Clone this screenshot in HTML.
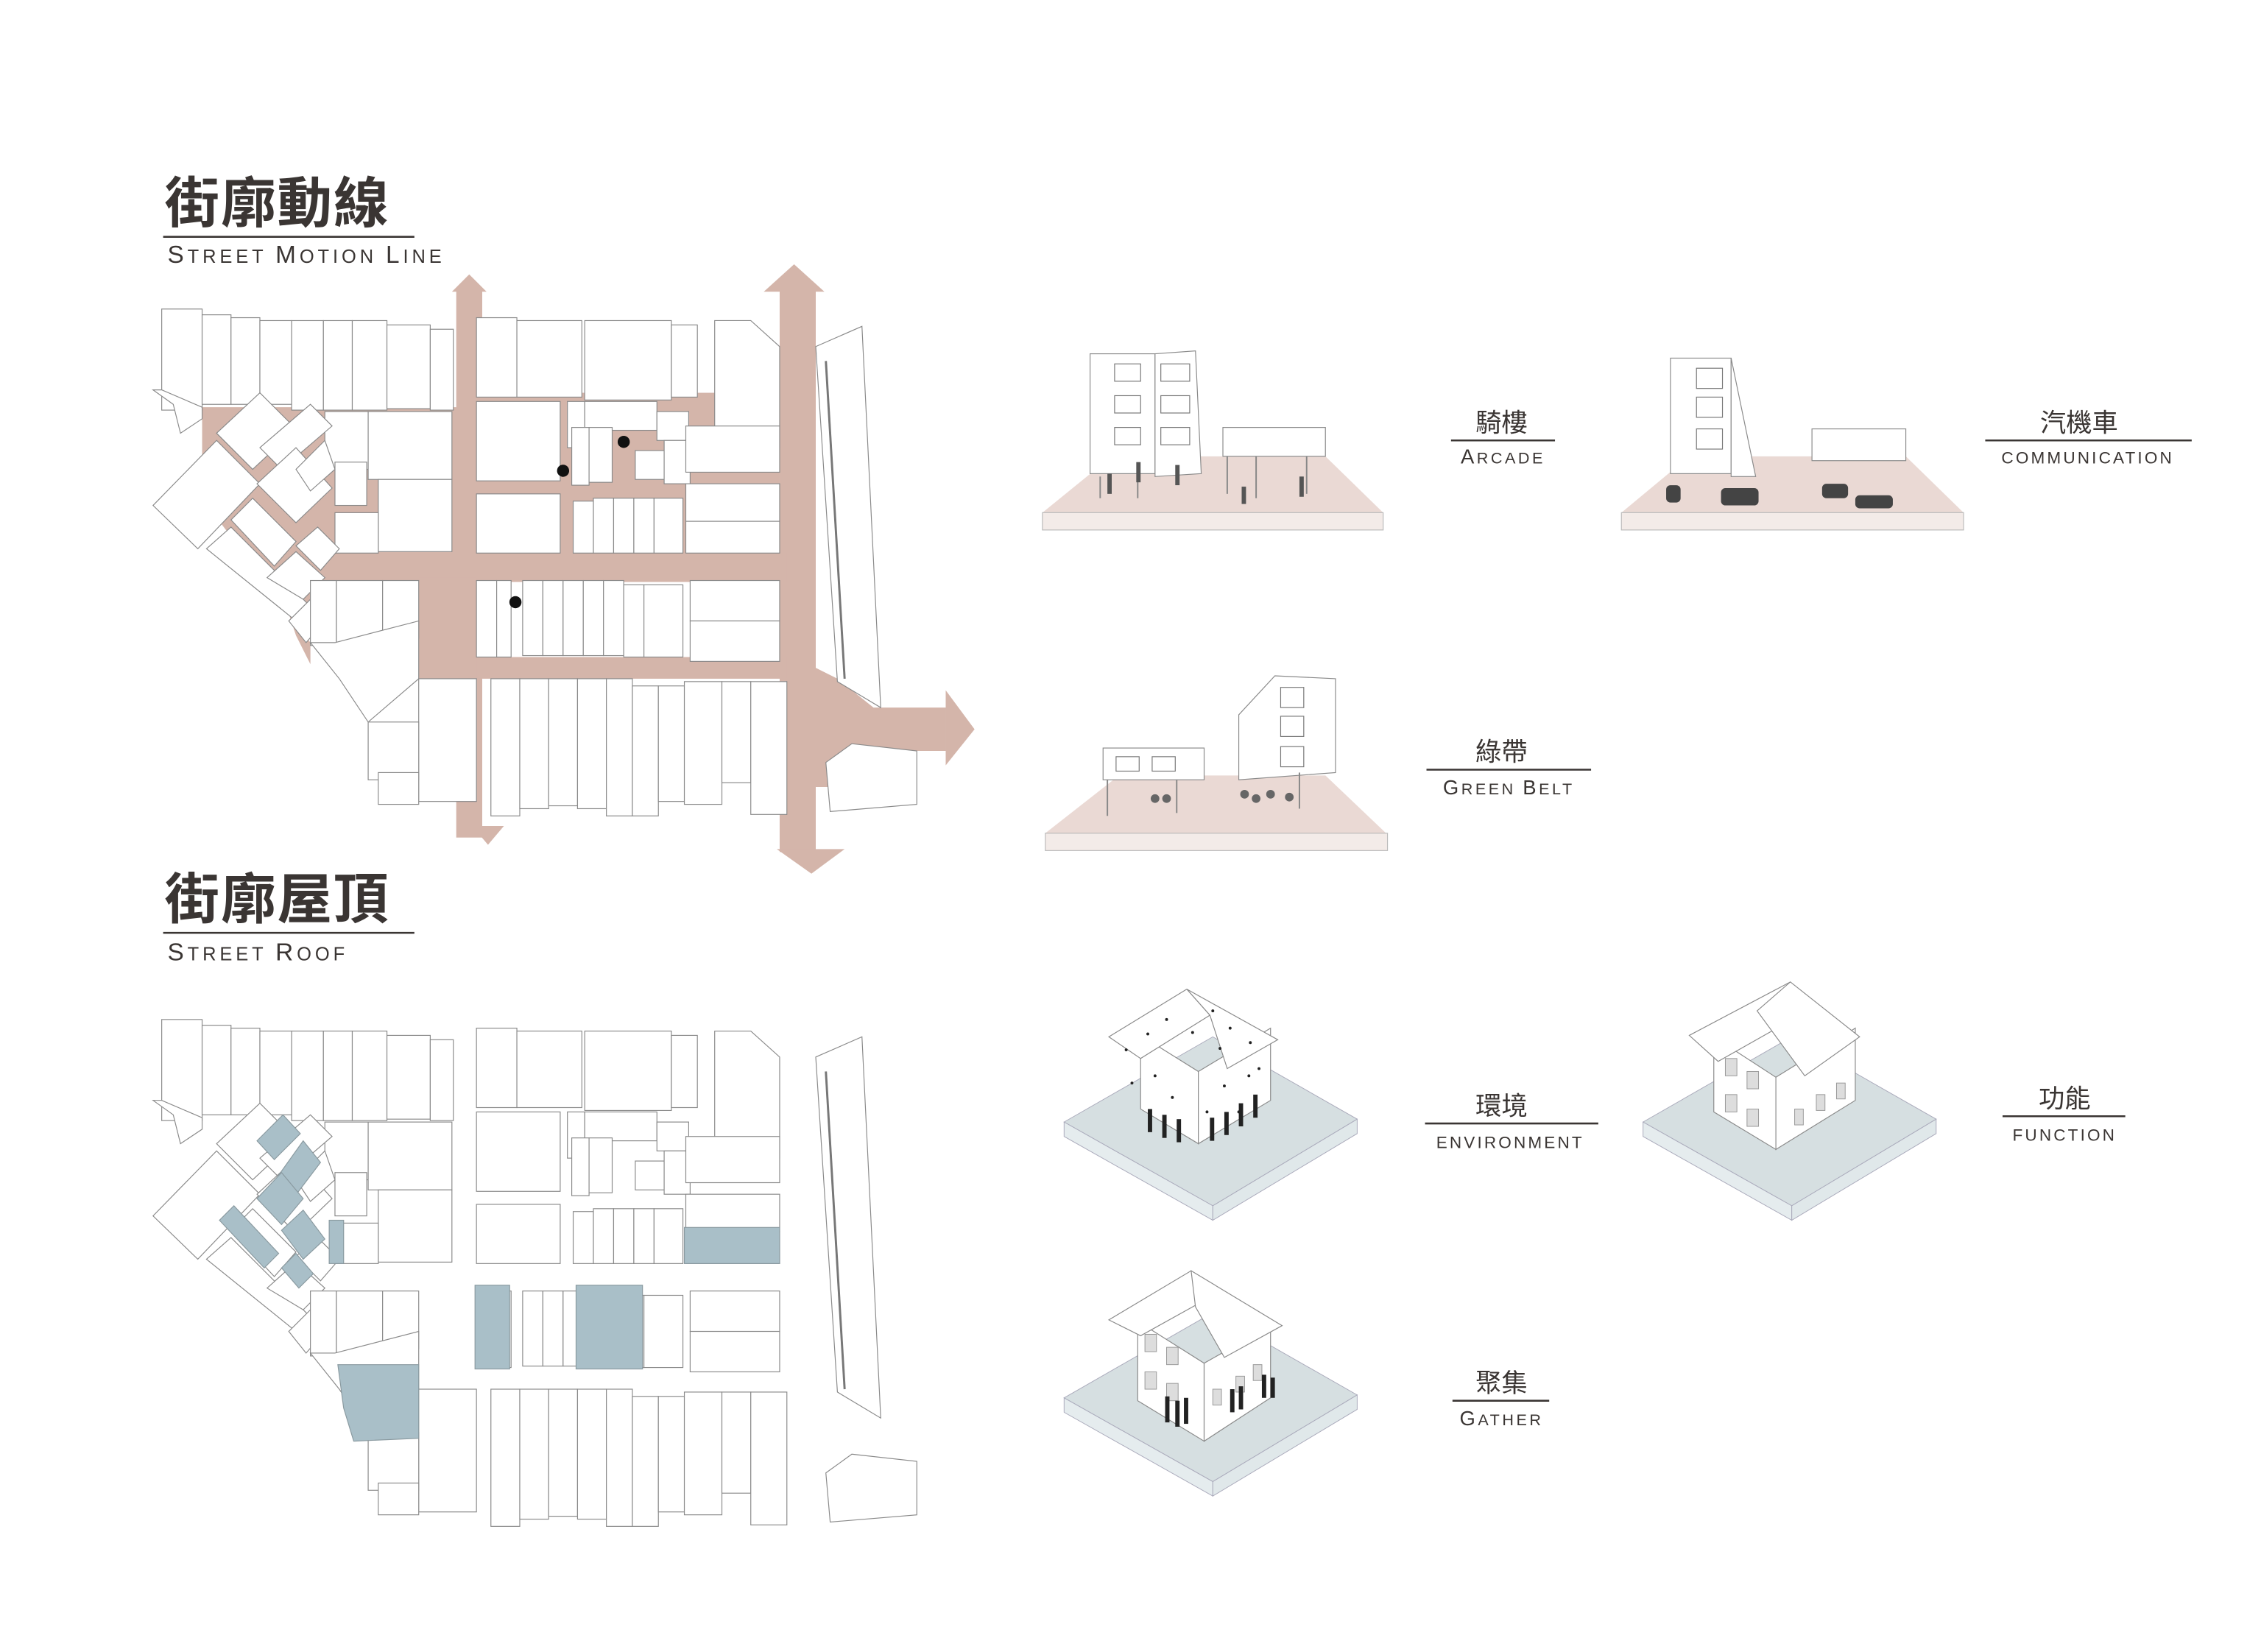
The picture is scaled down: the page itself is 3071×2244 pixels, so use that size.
<!DOCTYPE html>
<html><head><meta charset="utf-8">
<style>
html,body{margin:0;padding:0;background:#fff;}
svg{display:block;}
.t{font-family:"Liberation Sans","Noto Sans CJK TC",sans-serif;fill:#3a3533;}
.b{fill:#fff;stroke:#8a8a8a;stroke-width:0.6;}
.bl{fill:#a9bfc8;stroke:#8a9aa0;stroke-width:0.6;}
.ln{stroke:#3a3533;stroke-width:1.3;}
</style></head>
<body>
<svg width="3071" height="2244" viewBox="0 0 1566 1144" preserveAspectRatio="none" xmlns="http://www.w3.org/2000/svg">
<defs>
<g id="blds">
 <rect class="b" x="112" y="214" width="28" height="70"/>
 <rect class="b" x="140" y="218" width="20" height="62"/>
 <rect class="b" x="160" y="220" width="20" height="60"/>
 <rect class="b" x="180" y="222" width="22" height="58"/>
 <rect class="b" x="202" y="222" width="22" height="62"/>
 <rect class="b" x="224" y="222" width="20" height="62"/>
 <rect class="b" x="244" y="222" width="24" height="62"/>
 <rect class="b" x="268" y="225" width="30" height="58"/>
 <rect class="b" x="298" y="228" width="16" height="56"/>
 <polygon class="b" points="106,270 120,280 125,300 140,290 140,282 112,270"/>
 <rect class="b" x="225" y="285" width="30" height="40"/>
 <rect class="b" x="255" y="285" width="58" height="47"/>
 <rect class="b" x="232" y="320" width="22" height="30"/>
 <rect class="b" x="262" y="332" width="51" height="50"/>
 <rect class="b" x="232" y="355" width="30" height="28"/>
 <polygon class="b" points="106,350 150,305 180,335 137,380"/>
 <polygon class="b" points="150,300 180,272 205,297 175,325"/>
 <polygon class="b" points="180,310 215,280 230,295 195,325"/>
 <polygon class="b" points="178,335 205,310 230,338 205,362"/>
 <polygon class="b" points="205,325 225,305 232,325 215,340"/>
 <polygon class="b" points="143,380 160,365 215,420 205,430"/>
 <polygon class="b" points="160,360 175,345 205,375 190,392"/>
 <polygon class="b" points="185,400 205,382 225,400 210,415"/>
 <polygon class="b" points="205,378 220,365 235,380 222,395"/>
 <polygon class="b" points="200,430 215,415 225,430 212,445"/>
 <rect class="b" x="330" y="220" width="28" height="55"/>
 <rect class="b" x="358" y="222" width="45" height="53"/>
 <rect class="b" x="405" y="222" width="60" height="55"/>
 <rect class="b" x="465" y="225" width="18" height="50"/>
 <polygon class="b" points="495,222 520,222 540,240 540,310 495,310"/>
 <rect class="b" x="330" y="278" width="58" height="55"/>
 <rect class="b" x="393" y="278" width="12" height="32"/>
 <rect class="b" x="405" y="278" width="50" height="20"/>
 <rect class="b" x="396" y="296" width="12" height="40"/>
 <rect class="b" x="408" y="296" width="16" height="38"/>
 <rect class="b" x="440" y="312" width="20" height="20"/>
 <rect class="b" x="455" y="285" width="22" height="20"/>
 <rect class="b" x="460" y="305" width="18" height="30"/>
 <rect class="b" x="475" y="295" width="65" height="32"/>
 <rect class="b" x="475" y="335" width="65" height="26"/>
 <rect class="b" x="475" y="361" width="65" height="22"/>
 <rect class="b" x="330" y="342" width="58" height="41"/>
 <rect class="b" x="397" y="347" width="14" height="36"/>
 <rect class="b" x="411" y="345" width="14" height="38"/>
 <rect class="b" x="425" y="345" width="14" height="38"/>
 <rect class="b" x="439" y="345" width="14" height="38"/>
 <rect class="b" x="453" y="345" width="20" height="38"/>
 <rect class="b" x="215" y="402" width="18" height="45"/>
 <rect class="b" x="233" y="402" width="32" height="55"/>
 <rect class="b" x="265" y="402" width="25" height="40"/>
 <polygon class="b" points="215,445 232,445 290,430 290,470 255,500 235,470"/>
 <rect class="b" x="290" y="470" width="40" height="85"/>
 <rect class="b" x="255" y="500" width="35" height="40"/>
 <rect class="b" x="262" y="535" width="28" height="22"/>
 <rect class="b" x="330" y="402" width="14" height="53"/>
 <rect class="b" x="344" y="402" width="10" height="53"/>
 <rect class="b" x="362" y="402" width="14" height="52"/>
 <rect class="b" x="376" y="402" width="14" height="52"/>
 <rect class="b" x="390" y="402" width="14" height="52"/>
 <rect class="b" x="404" y="402" width="14" height="52"/>
 <rect class="b" x="418" y="402" width="14" height="52"/>
 <rect class="b" x="432" y="405" width="14" height="50"/>
 <rect class="b" x="446" y="405" width="27" height="50"/>
 <rect class="b" x="478" y="402" width="62" height="28"/>
 <rect class="b" x="478" y="430" width="62" height="28"/>
 <rect class="b" x="340" y="470" width="20" height="95"/>
 <rect class="b" x="360" y="470" width="20" height="90"/>
 <rect class="b" x="380" y="470" width="20" height="88"/>
 <rect class="b" x="400" y="470" width="20" height="90"/>
 <rect class="b" x="420" y="470" width="18" height="95"/>
 <rect class="b" x="438" y="475" width="18" height="90"/>
 <rect class="b" x="456" y="475" width="18" height="80"/>
 <rect class="b" x="474" y="472" width="26" height="85"/>
 <rect class="b" x="500" y="472" width="20" height="70"/>
 <rect class="b" x="520" y="472" width="25" height="92"/>
 <polygon class="b" points="565,240 597,226 610,490 580,472" />
 <line x1="572" y1="250" x2="585" y2="470" stroke="#777" stroke-width="1.5"/>
 <polygon class="b" points="572,528 590,515 635,520 635,557 575,562"/>
</g>
</defs>

<text class="t" x="114" y="154" font-size="38" font-weight="bold" letter-spacing="1">街廓動線</text>
<line class="ln" x1="113" y1="164" x2="287" y2="164"/>
<text class="t" x="116" y="182" font-size="13" letter-spacing="2.5"><tspan font-size="17">S</tspan>TREET <tspan font-size="17">M</tspan>OTION <tspan font-size="17">L</tspan>INE</text>

<g fill="#d4b5aa">
 <polygon points="140,282 320,282 320,400 212,440 200,425 140,345"/>
 <rect x="320" y="272" width="220" height="130"/>
 <rect x="316" y="200" width="18" height="380"/>
 <polygon points="313,202 325,190 337,202"/>
 <polygon points="327,572 349,572 338,585"/>
 <rect x="540" y="200" width="25" height="390"/>
 <polygon points="529,202 550,183 571,202"/>
 <polygon points="538,588 585,588 562,605"/>
 <rect x="215" y="383" width="330" height="20"/>
 <rect x="325" y="455" width="220" height="15"/>
 <rect x="290" y="400" width="40" height="75"/>
 <polygon points="560,460 580,470 605,490 655,490 655,520 600,520 580,545 565,545"/>
 <polygon points="655,478 675,505 655,530"/>
 <polygon points="200,425 215,445 215,460 205,440"/>
</g>
<use href="#blds"/>
<circle cx="390" cy="326" r="4.2" fill="#111"/>
<circle cx="432" cy="306" r="4.2" fill="#111"/>
<circle cx="357" cy="417" r="4.2" fill="#111"/>

<text class="t" x="114" y="636" font-size="38" font-weight="bold" letter-spacing="1">街廓屋頂</text>
<line class="ln" x1="113" y1="646" x2="287" y2="646"/>
<text class="t" x="116" y="665" font-size="13" letter-spacing="2.5"><tspan font-size="17">S</tspan>TREET <tspan font-size="17">R</tspan>OOF</text>

<use href="#blds" transform="translate(0,492)"/>
<g class="bl">
 <polygon points="178,790 196,772 208,785 190,803"/>
 <polygon points="190,818 210,790 222,805 203,830"/>
 <polygon points="178,830 195,812 210,830 195,848"/>
 <polygon points="195,852 210,838 225,858 210,872"/>
 <polygon points="152,845 162,835 193,868 183,878"/>
 <polygon points="195,878 205,868 217,882 207,892"/>
 <rect x="228" y="845" width="10" height="30"/>
 <rect x="474" y="850" width="66" height="25"/>
 <rect x="329" y="890" width="24" height="58"/>
 <rect x="399" y="890" width="46" height="58"/>
 <polygon points="234,945 290,945 290,996 245,998 238,975"/>
</g>

<g>
 <polygon points="722,355 770,316 918,316 958,355" fill="#ead9d4"/>
 <rect x="722" y="355" width="236" height="12" fill="#f3ebe8" stroke="#bbb" stroke-width="0.6"/>
 <rect class="b" x="755" y="245" width="45" height="83"/>
 <polygon class="b" points="800,245 828,243 832,328 800,330"/>
 <g fill="none" stroke="#777" stroke-width="0.6">
  <rect x="772" y="252" width="18" height="12"/><rect x="772" y="274" width="18" height="12"/><rect x="772" y="296" width="18" height="12"/>
  <rect x="804" y="252" width="20" height="12"/><rect x="804" y="274" width="20" height="12"/><rect x="804" y="296" width="20" height="12"/>
 </g>
 <rect class="b" x="847" y="296" width="71" height="20"/>
 <g stroke="#888" stroke-width="1"><line x1="762" y1="330" x2="762" y2="345"/><line x1="788" y1="330" x2="788" y2="345"/><line x1="850" y1="316" x2="850" y2="342"/><line x1="870" y1="316" x2="870" y2="345"/><line x1="905" y1="316" x2="905" y2="342"/></g>
 <g fill="#555"><rect x="767" y="328" width="3" height="14"/><rect x="787" y="320" width="3" height="14"/><rect x="814" y="322" width="3" height="14"/><rect x="860" y="337" width="3" height="12"/><rect x="900" y="330" width="3" height="14"/></g>
</g>
<text class="t" x="1040" y="299" font-size="18" text-anchor="middle">騎樓</text>
<line class="ln" x1="1005" y1="305" x2="1077" y2="305"/>
<text class="t" x="1041" y="321" font-size="11" text-anchor="middle" letter-spacing="1.8"><tspan font-size="14">A</tspan>RCADE</text>

<g>
 <polygon points="1123,355 1170,316 1320,316 1360,355" fill="#ead9d4"/>
 <rect x="1123" y="355" width="237" height="12" fill="#f3ebe8" stroke="#bbb" stroke-width="0.6"/>
 <rect class="b" x="1157" y="248" width="42" height="80"/>
 <polygon class="b" points="1199,248 1216,330 1199,330"/>
 <g fill="none" stroke="#777" stroke-width="0.6"><rect x="1175" y="255" width="18" height="14"/><rect x="1175" y="275" width="18" height="14"/><rect x="1175" y="297" width="18" height="14"/></g>
 <rect class="b" x="1255" y="297" width="65" height="22"/>
 <g fill="#444"><rect x="1192" y="338" width="26" height="12" rx="3"/><rect x="1262" y="335" width="18" height="10" rx="3"/><rect x="1285" y="343" width="26" height="9" rx="3"/><rect x="1154" y="336" width="10" height="12" rx="3"/></g>
</g>
<text class="t" x="1440" y="299" font-size="18" text-anchor="middle">汽機車</text>
<line class="ln" x1="1375" y1="305" x2="1518" y2="305"/>
<text class="t" x="1446" y="321" font-size="11.5" text-anchor="middle" letter-spacing="1.6">COMMUNICATION</text>

<g>
 <polygon points="724,577 775,537 918,537 960,577" fill="#ead9d4"/>
 <rect x="724" y="577" width="237" height="12" fill="#f3ebe8" stroke="#bbb" stroke-width="0.6"/>
 <rect class="b" x="764" y="518" width="70" height="22"/>
 <g fill="none" stroke="#777" stroke-width="0.6"><rect x="773" y="524" width="16" height="10"/><rect x="798" y="524" width="16" height="10"/></g>
 <polygon class="b" points="858,495 883,468 925,470 925,535 858,540"/>
 <g fill="none" stroke="#777" stroke-width="0.6"><rect x="887" y="476" width="16" height="14"/><rect x="887" y="496" width="16" height="14"/><rect x="887" y="517" width="16" height="14"/></g>
 <g stroke="#888"><line x1="767" y1="540" x2="767" y2="565"/><line x1="815" y1="540" x2="815" y2="563"/><line x1="900" y1="535" x2="900" y2="560"/></g>
 <g fill="#666"><circle cx="800" cy="553" r="3"/><circle cx="808" cy="553" r="3"/><circle cx="862" cy="550" r="3"/><circle cx="870" cy="553" r="3"/><circle cx="880" cy="550" r="3"/><circle cx="893" cy="552" r="3"/></g>
</g>
<text class="t" x="1040" y="527" font-size="18" text-anchor="middle">綠帶</text>
<line class="ln" x1="988" y1="533" x2="1102" y2="533"/>
<text class="t" x="1045" y="550" font-size="11" text-anchor="middle" letter-spacing="1.8"><tspan font-size="14">G</tspan>REEN <tspan font-size="14">B</tspan>ELT</text>

<g id="slab1">
 <polygon points="737,777 840,718 940,775 840,835" fill="#d6dfe1" stroke="#aab" stroke-width="0.5"/>
 <polygon points="737,777 840,835 840,845 737,787" fill="#e5ecee" stroke="#aab" stroke-width="0.5"/>
 <polygon points="840,835 940,775 940,785 840,845" fill="#e0e8ea" stroke="#aab" stroke-width="0.5"/>
</g>
<use href="#slab1" transform="translate(401,0)"/>
<use href="#slab1" transform="translate(0,191)"/>

<g>
 <polygon class="b" points="790,717 830,742 830,792 790,768"/>
 <polygon class="b" points="830,742 880,712 880,762 830,792"/>
 <polygon class="b" points="768,718 822,685 838,703 790,733"/>
 <polygon class="b" points="822,685 885,720 850,740 838,703"/>
 <g fill="#222">
  <circle cx="780" cy="727" r="1"/><circle cx="795" cy="716" r="1"/><circle cx="808" cy="706" r="1"/><circle cx="840" cy="700" r="1"/><circle cx="852" cy="712" r="1"/><circle cx="866" cy="722" r="1"/><circle cx="845" cy="726" r="1"/><circle cx="800" cy="745" r="1"/><circle cx="812" cy="760" r="1"/><circle cx="848" cy="752" r="1"/><circle cx="865" cy="745" r="1"/><circle cx="858" cy="770" r="1"/><circle cx="784" cy="750" r="1"/><circle cx="826" cy="715" r="1"/><circle cx="872" cy="740" r="1"/><circle cx="836" cy="770" r="1"/>
 </g>
 <g fill="#222"><rect x="795" y="768" width="3" height="16"/><rect x="805" y="772" width="3" height="16"/><rect x="815" y="775" width="3" height="16"/><rect x="838" y="774" width="3" height="16"/><rect x="848" y="770" width="3" height="16"/><rect x="858" y="764" width="3" height="16"/><rect x="868" y="758" width="3" height="16"/></g>
</g>
<text class="t" x="1040" y="772" font-size="18" text-anchor="middle">環境</text>
<line class="ln" x1="987" y1="778" x2="1107" y2="778"/>
<text class="t" x="1046" y="795" font-size="11.5" text-anchor="middle" letter-spacing="1.6">ENVIRONMENT</text>

<g>
 <polygon class="b" points="1187,718 1230,746 1230,796 1187,770"/>
 <polygon class="b" points="1230,746 1285,712 1285,762 1230,796"/>
 <polygon class="b" points="1170,717 1240,680 1252,700 1190,735"/>
 <polygon class="b" points="1240,680 1288,718 1250,745 1217,700"/>
 <g fill="#ddd" stroke="#999" stroke-width="0.5"><rect x="1195" y="733" width="8" height="12"/><rect x="1210" y="742" width="8" height="12"/><rect x="1195" y="758" width="8" height="12"/><rect x="1210" y="768" width="8" height="12"/><rect x="1243" y="768" width="6" height="11"/><rect x="1258" y="758" width="6" height="11"/><rect x="1272" y="750" width="6" height="11"/></g>
</g>
<text class="t" x="1430" y="767" font-size="18" text-anchor="middle">功能</text>
<line class="ln" x1="1387" y1="773" x2="1472" y2="773"/>
<text class="t" x="1430" y="790" font-size="11.5" text-anchor="middle" letter-spacing="1.6">FUNCTION</text>

<g>
 <polygon class="b" points="788,915 834,944 834,998 788,970"/>
 <polygon class="b" points="834,944 880,918 880,968 834,998"/>
 <polygon class="b" points="768,914 825,880 835,900 790,925"/>
 <polygon class="b" points="825,880 888,918 848,940 828,905"/>
 <g fill="#ddd" stroke="#999" stroke-width="0.5"><rect x="793" y="924" width="8" height="12"/><rect x="808" y="933" width="8" height="12"/><rect x="793" y="950" width="8" height="12"/><rect x="808" y="958" width="8" height="12"/><rect x="840" y="962" width="6" height="11"/><rect x="856" y="953" width="6" height="11"/><rect x="868" y="945" width="6" height="11"/></g>
 <g fill="#222"><rect x="807" y="967" width="3" height="18"/><rect x="814" y="970" width="3" height="18"/><rect x="820" y="968" width="3" height="18"/><rect x="852" y="962" width="3" height="16"/><rect x="858" y="960" width="3" height="16"/><rect x="874" y="952" width="3" height="16"/><rect x="880" y="954" width="3" height="14"/></g>
</g>
<text class="t" x="1040" y="964" font-size="18" text-anchor="middle">聚集</text>
<line class="ln" x1="1006" y1="970" x2="1073" y2="970"/>
<text class="t" x="1040" y="987" font-size="11" text-anchor="middle" letter-spacing="1.8"><tspan font-size="14">G</tspan>ATHER</text>
</svg>
</body></html>
